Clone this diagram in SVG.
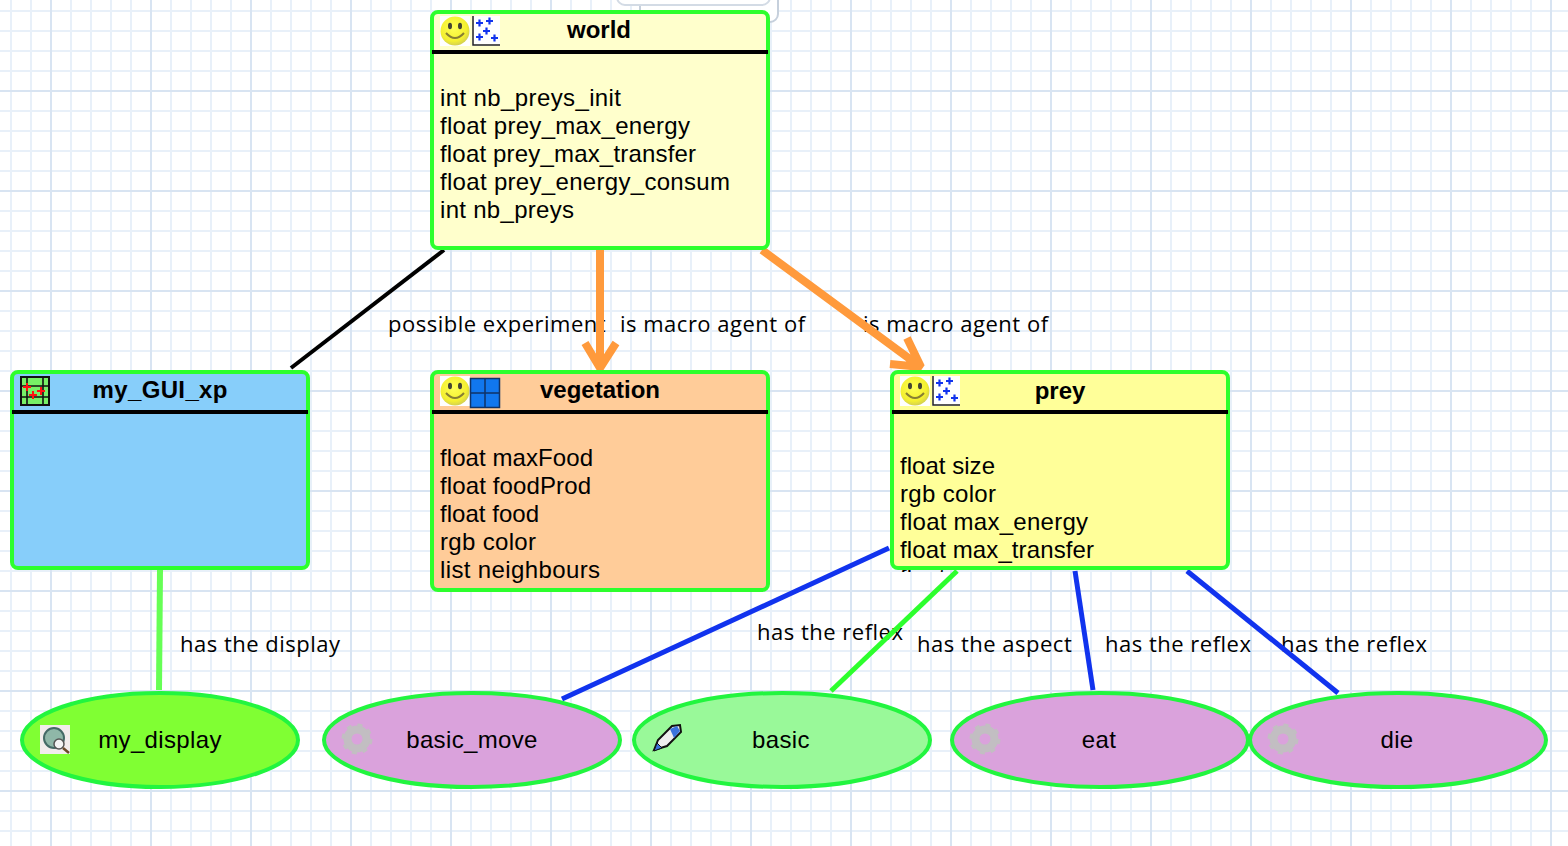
<svg xmlns="http://www.w3.org/2000/svg" xmlns:xlink="http://www.w3.org/1999/xlink" width="1568" height="846" viewBox="0 0 1568 846">
<style>
.g{stroke:#e8f0f9;stroke-width:2;fill:none}
.G{stroke:#d8e4f2;stroke-width:2;fill:none}
.box{stroke:#2dff2d;stroke-width:4}
.hd{stroke:#000;stroke-width:4}
.ell{stroke:#22f53f;stroke-width:4}
.t{font-family:"Liberation Sans",Arial,sans-serif;font-size:24px;fill:#000}
.b{font-weight:700;text-anchor:middle}
.m{text-anchor:middle;letter-spacing:.35px}
.l{font-family:"Open Sans","DejaVu Sans",sans-serif;font-size:22px;letter-spacing:.5px;fill:#000}
.c{fill:none;stroke-linecap:butt}
.blue{stroke:#1133ee;stroke-width:5}
.or{stroke:#ff9a3c;stroke-width:8;stroke-linejoin:bevel}
</style>
<defs>
<pattern id="minor" width="20" height="20" patternUnits="userSpaceOnUse" x="1" y="1">
<path d="M10 0V20M0 10H20" class="g"/>
</pattern>
<pattern id="major" width="100" height="100" patternUnits="userSpaceOnUse" x="1" y="41">
<path d="M50 0V100M0 50H100" class="G"/>
</pattern>
<radialGradient id="sm" cx="0.45" cy="0.4" r="0.6"><stop offset="0" stop-color="#ffff55"/><stop offset="0.75" stop-color="#f4f030"/><stop offset="1" stop-color="#d4d050"/></radialGradient>
<g id="smile">
<rect x="-15" y="-15" width="30" height="30" fill="#fff"/>
<circle r="14.5" fill="url(#sm)"/>
<ellipse cx="-5" cy="-5" rx="2" ry="3.200" fill="#443"/>
<ellipse cx="5" cy="-5" rx="2" ry="3.200" fill="#443"/>
<path d="M-9 2Q0 12 9 2" fill="none" stroke="#887f33" stroke-width="2"/>
</g>
<g id="scatter">
<rect width="28" height="30" fill="#fff"/>
<path d="M1 0V29H28" fill="none" stroke="#222" stroke-width="1.500"/>
<path d="M4 7h7M7.500 3.500v7M14 5h7M17.500 1.500v7M11 15h7M14.500 11.500v7M4 21h7M7.500 17.500v7M19 22h7M22.500 18.500v7" stroke="#1133ee" stroke-width="2.200"/>
</g>
<g id="gear">
<circle r="9.500" fill="none" stroke="#c2bec2" stroke-width="8"/>
<circle r="14" fill="none" stroke="#c2bec2" stroke-width="3" stroke-dasharray="5 6"/>
</g>
<clipPath id="under"><rect x="890" y="560" width="100" height="12"/></clipPath>
</defs>

<rect width="1568" height="846" fill="#fff"/>
<rect width="1568" height="846" fill="url(#minor)"/>
<rect width="1568" height="846" fill="url(#major)"/>
<rect x="640" y="-20" width="138" height="42" rx="8" fill="#fff" stroke="#c6d0dc" stroke-width="2"/>
<rect x="617" y="-20" width="153" height="25" rx="8" fill="#fff" stroke="#d3dbe5" stroke-width="2"/>

<g id="labels">
<text class="l" x="388" y="332">possible experiment</text>
<text class="l" x="620" y="332">is macro agent of</text>
<text class="l" x="863" y="332">is macro agent of</text>
<text class="l" x="180" y="652">has the display</text>
<text class="l" x="757" y="640">has the reflex</text>
<text class="l" x="917" y="652">has the aspect</text>
<text class="l" x="1105" y="652">has the reflex</text>
<text class="l" x="1281" y="652">has the reflex</text>
</g>

<g id="connectors">
<path class="c" d="M444 250L291 368" stroke="#000" stroke-width="4"/>
<path class="c or" d="M600 250V366M585 343L600 368L616 343"/>
<path class="c or" d="M762 250L918 365M907 338L921 367L890 364"/>
<path class="c" d="M160 570L159 690" stroke="#66ff55" stroke-width="6"/>
<path class="c blue" d="M889 548L562 699"/>
<path class="c" d="M957 571L831 691" stroke="#2dff2d" stroke-width="5"/>
<path class="c blue" d="M1075 571L1093 690"/>
<path class="c blue" d="M1187 571L1338 693"/>
</g>

<g id="world">
<rect class="box" x="432" y="12" width="336" height="236" rx="6" fill="#ffffcc"/>
<path class="hd" d="M432 52H768"/>
<use xlink:href="#smile" href="#smile" x="455" y="31"/>
<use xlink:href="#scatter" href="#scatter" x="472" y="16"/>
<text class="t b" x="599" y="38">world</text>
<text class="t" x="440" y="106" textLength="181">int nb_preys_init</text>
<text class="t" x="440" y="134" textLength="250">float prey_max_energy</text>
<text class="t" x="440" y="162" textLength="256">float prey_max_transfer</text>
<text class="t" x="440" y="190" textLength="290">float prey_energy_consum</text>
<text class="t" x="440" y="218" textLength="134">int nb_preys</text>
</g>

<g id="my_GUI_xp">
<rect class="box" x="12" y="372" width="296" height="196" rx="6" fill="#87cefa"/>
<path class="hd" d="M12 412H308"/>
<rect x="21" y="377" width="28" height="28" fill="#77f066" stroke="#111" stroke-width="2"/>
<path d="M21 386H49M21 397H49M27 377V405M43 377V405" stroke="#111" stroke-width="1.600"/>
<path d="M23 387h8M27 383v8M37 391h8M41 387v8M29 395h8M33 391v8" stroke="#f11" stroke-width="2"/>
<text class="t b" x="160" y="398" textLength="135">my_GUI_xp</text>
</g>

<g id="vegetation">
<rect class="box" x="432" y="372" width="336" height="218" rx="6" fill="#ffcc99"/>
<path class="hd" d="M432 412H768"/>
<use xlink:href="#smile" href="#smile" x="455" y="391"/>
<rect x="470" y="378" width="30" height="30" fill="#1177ee"/>
<path d="M470 393H500M485 378V408M470.500 378.500H499.500V407.500H470.500Z" stroke="#113366" stroke-width="1.500" fill="none"/>
<text class="t b" x="600" y="398">vegetation</text>
<text class="t" x="440" y="466" textLength="153">float maxFood</text>
<text class="t" x="440" y="494" textLength="151">float foodProd</text>
<text class="t" x="440" y="522" textLength="99">float food</text>
<text class="t" x="440" y="550" textLength="96">rgb color</text>
<text class="t" x="440" y="578" textLength="160">list neighbours</text>
</g>

<g id="prey">
<text class="t" x="900" y="586" clip-path="url(#under)">float</text>
<rect class="box" x="892" y="372" width="336" height="196" rx="6" fill="#ffff99"/>
<path class="hd" d="M892 412H1228"/>
<use xlink:href="#smile" href="#smile" x="915" y="391"/>
<use xlink:href="#scatter" href="#scatter" x="932" y="376"/>
<text class="t b" x="1060" y="399">prey</text>
<text class="t" x="900" y="474" textLength="95">float size</text>
<text class="t" x="900" y="502" textLength="96">rgb color</text>
<text class="t" x="900" y="530" textLength="188">float max_energy</text>
<text class="t" x="900" y="558" textLength="194">float max_transfer</text>
</g>

<g id="my_display">
<ellipse class="ell" cx="160" cy="740" rx="138" ry="47" fill="#80ff33"/>
<rect x="40" y="725" width="30" height="29" fill="#f2ecec"/>
<circle cx="54" cy="738" r="10" fill="#8fb7a8" stroke="#446a66" stroke-width="2"/>
<circle cx="59" cy="744" r="5" fill="#f4f4f4" stroke="#555" stroke-width="1.500"/>
<path d="M63 748L69 753" stroke="#6b4a2a" stroke-width="2.500"/>
<text class="t m" x="160" y="748">my_display</text>
</g>

<g id="basic_move">
<ellipse class="ell" cx="472" cy="740" rx="148" ry="47" fill="#daa2dc"/>
<use xlink:href="#gear" href="#gear" x="357" y="739"/>
<text class="t m" x="472" y="748">basic_move</text>
</g>

<g id="basic">
<ellipse class="ell" cx="782" cy="740" rx="148" ry="47" fill="#99f999"/>
<path d="M654 750L658 740L672 726L680 725L681 732L667 746Z" fill="#eee" stroke="#111" stroke-width="2"/>
<path d="M670 729L677 726L680 731L674 738Z" fill="#3b73dc"/>
<path d="M654 751L657 743L662 748Z" fill="#3b73dc" stroke="#111"/>
<text class="t m" x="781" y="748">basic</text>
</g>

<g id="eat">
<ellipse class="ell" cx="1100" cy="740" rx="148" ry="47" fill="#daa2dc"/>
<use xlink:href="#gear" href="#gear" x="985" y="739"/>
<text class="t m" x="1099" y="748">eat</text>
</g>

<g id="die">
<ellipse class="ell" cx="1398" cy="740" rx="148" ry="47" fill="#daa2dc"/>
<use xlink:href="#gear" href="#gear" x="1283" y="739"/>
<text class="t m" x="1397" y="748">die</text>
</g>
</svg>
